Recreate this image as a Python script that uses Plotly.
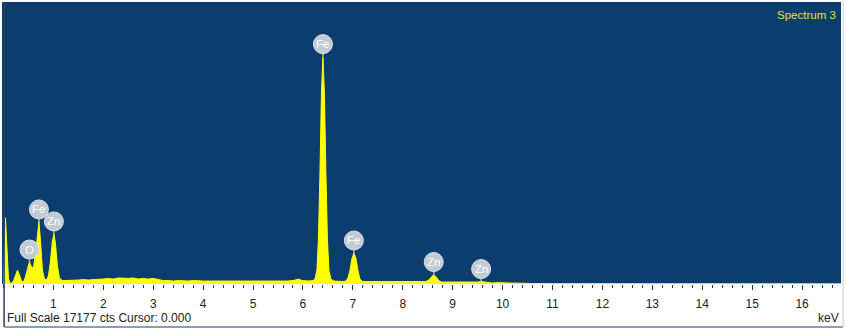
import plotly.graph_objects as go

# ---- data ----
energy_kev = [
    0.00, 0.02, 0.04, 0.06, 0.08, 0.10, 0.13, 0.16, 0.20, 0.24, 0.28, 0.32, 0.36, 0.40,
    0.44, 0.48, 0.52, 0.56, 0.60, 0.64, 0.68, 0.71, 0.74, 0.78, 0.82, 0.86, 0.90, 0.94,
    0.98, 1.01, 1.04, 1.08, 1.12, 1.16, 1.20,
    1.3, 1.4, 1.5, 1.6, 1.7, 1.8, 1.9, 2.0, 2.1, 2.2, 2.3, 2.4, 2.5, 2.6, 2.7, 2.8, 2.9,
    3.0, 3.1, 3.2, 3.3, 3.4, 3.5, 3.6, 3.7, 3.8, 3.9, 4.0, 4.1, 4.2, 4.3, 4.4, 4.5, 4.6,
    4.7, 4.8, 4.9, 5.0, 5.1, 5.2, 5.3, 5.4, 5.5, 5.6, 5.7, 5.8, 5.86, 5.92, 5.98, 6.05,
    6.12, 6.20, 6.24, 6.28, 6.31, 6.34, 6.37, 6.40, 6.43, 6.46, 6.49, 6.52, 6.56, 6.62,
    6.70, 6.80, 6.86, 6.90, 6.94, 6.98, 7.02, 7.06, 7.10, 7.14, 7.20,
    7.3, 7.4, 7.5, 7.6, 7.7, 7.8, 7.9, 8.0, 8.1, 8.2, 8.3, 8.4, 8.46, 8.52, 8.57, 8.62,
    8.67, 8.72, 8.78, 8.9, 9.0, 9.1, 9.2, 9.3, 9.4, 9.5, 9.57, 9.64, 9.7, 9.8, 9.9, 10.0,
    10.1, 10.2, 10.4, 10.6, 11.0, 12.0, 13.0, 14.0, 15.0, 16.0, 16.8,
]
counts = [
    0, 2140, 4030, 2750, 920, 310, 60, 60, 180, 550, 850, 550, 180, 120,
    430, 920, 1340, 1040, 980, 1830, 3170, 3780, 2680, 850, 310, 240, 490, 1340,
    2620, 3050, 2500, 1100, 370, 240, 210,
    210, 240, 240, 270, 240, 270, 270, 300, 340, 300, 370, 340, 340, 370, 300, 340, 300,
    340, 270, 210, 210, 180, 210, 180, 180, 210, 180, 180, 180, 180, 180, 150, 180, 150,
    180, 150, 150, 180, 150, 180, 150, 180, 180, 180, 180, 210, 270, 300, 210, 180,
    180, 210, 300, 850, 2750, 6710, 11590, 13850, 11590, 6710, 2750, 850, 300, 180,
    150, 150, 180, 370, 790, 1530, 1890, 1590, 850, 300, 150,
    150, 120, 150, 120, 120, 150, 120, 120, 120, 120, 120, 120, 150, 240, 430, 580,
    430, 210, 120, 120, 90, 120, 90, 90, 90, 120, 150, 120, 90, 60, 90, 60,
    60, 60, 30, 30, 20, 20, 15, 15, 10, 10, 10,
]
full_scale = 17177

peak_elements = ["O", "Fe", "Zn", "Fe", "Fe", "Zn", "Zn"]
peak_energies = [0.52, 0.71, 1.01, 6.40, 7.02, 8.62, 9.57]
peak_counts = [1340, 3780, 3050, 13850, 1890, 580, 150]

tick_values = list(range(1, 17))
tick_labels = [str(v) for v in tick_values]

FONT = "Liberation Sans, Arial, sans-serif"

fig = go.Figure()
fig.add_trace(go.Scatter(
    x=energy_kev, y=counts, mode="lines", fill="tozeroy",
    line=dict(color="#ffff00", width=1, shape="linear"),
    fillcolor="#ffff00", hoverinfo="skip", showlegend=False,
))

shapes = []
annotations = []
for el, ex, cy in zip(peak_elements, peak_energies, peak_counts):
    shapes.append(dict(
        type="line", xref="x", yref="y", xsizemode="pixel", ysizemode="pixel",
        xanchor=ex, yanchor=cy, x0=0, x1=0, y0=0, y1=4,
        line=dict(color="#a9b3bf", width=1.5),
    ))
    shapes.append(dict(
        type="circle", xref="x", yref="y", xsizemode="pixel", ysizemode="pixel",
        xanchor=ex, yanchor=cy, x0=-9.5, x1=9.5, y0=3, y1=22,
        fillcolor="rgba(200,207,217,0.97)", line=dict(color="#dde2e8", width=1),
    ))
    annotations.append(dict(
        x=ex, y=cy, xref="x", yref="y", yshift=12.5, showarrow=False,
        text=el, font=dict(family=FONT, size=11.5, color="#ffffff"),
        xanchor="center", yanchor="middle",
    ))

# frame lines
shapes += [
    dict(type="line", xref="paper", yref="paper", x0=0.0025, x1=0.0025, y0=1.0, y1=-0.1525,
         line=dict(color="#2b3f5c", width=1.5)),
    dict(type="line", xref="paper", yref="paper", x0=0.0025, x1=1.0025, y0=-0.1525, y1=-0.1525,
         line=dict(color="#5f7fa6", width=1.5)),
    dict(type="line", xref="paper", yref="paper", x0=1.0025, x1=1.0025, y0=-0.1525, y1=1.0,
         line=dict(color="#c8ccd2", width=1)),
]

annotations += [
    dict(x=0.9965, y=0.955, xref="paper", yref="paper", showarrow=False,
         text="Spectrum 3", xanchor="right", yanchor="middle",
         font=dict(family=FONT, size=11.5, color="#e2e43a")),
    dict(x=0.0036, y=-0.1206, xref="paper", yref="paper", showarrow=False,
         text="Full Scale 17177 cts Cursor: 0.000", xanchor="left", yanchor="middle",
         font=dict(family=FONT, size=12, color="#222222")),
    dict(x=1.0, y=-0.1206, xref="paper", yref="paper", showarrow=False,
         text="keV", xanchor="right", yanchor="middle",
         font=dict(family=FONT, size=12, color="#222222")),
]

fig.update_layout(
    width=846, height=331,
    margin=dict(l=2, r=5, t=2, b=47),
    paper_bgcolor="#ffffff",
    plot_bgcolor="#0c3d6f",
    shapes=shapes,
    annotations=annotations,
    showlegend=False,
    xaxis=dict(
        range=[-0.03, 16.78], showgrid=False, zeroline=False, showline=False,
        tickvals=tick_values, ticktext=tick_labels,
        ticks="outside", ticklen=5, tickwidth=1, tickcolor="#333333",
        ticklabelstandoff=4,
        tickfont=dict(family=FONT, size=12, color="#222222"),
        minor=dict(dtick=0.2, tick0=0, ticks="outside", ticklen=3, tickwidth=1,
                   tickcolor="#333333", showgrid=False),
        fixedrange=True,
    ),
    yaxis=dict(
        range=[0, full_scale], showgrid=False, zeroline=False, showline=False,
        showticklabels=False, ticks="", fixedrange=True,
    ),
)

fig.write_html(
    "out.html",
    config={"displayModeBar": False},
    post_script="document.body.style.margin='0';document.body.style.overflow='hidden';",
)
